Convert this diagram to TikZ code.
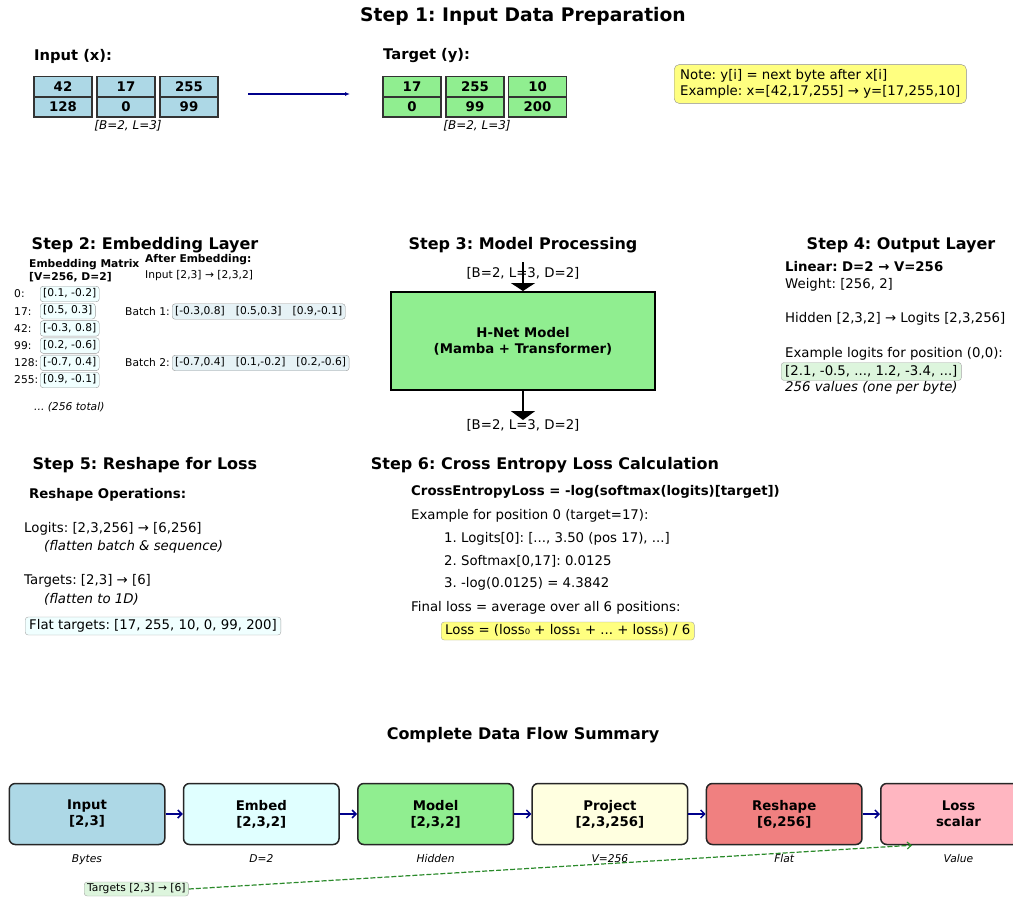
\documentclass[tikz,border=0pt]{standalone}
\usepackage{fontspec}
\setmainfont{DejaVu Sans}
\usetikzlibrary{arrows.meta,positioning,calc}
\frenchspacing
\definecolor{cellblue}{HTML}{ADD8E6}
\definecolor{cellgreen}{HTML}{90EE90}
\definecolor{notefill}{HTML}{FFFF80}
\definecolor{embfill}{HTML}{F0FFFF}
\definecolor{batchfill}{HTML}{E6F2F6}
\definecolor{logitfill}{HTML}{DDF5DD}
\definecolor{flowcyan}{HTML}{E0FFFF}
\definecolor{flowyellow}{HTML}{FFFFE0}
\definecolor{flowcoral}{HTML}{F08080}
\definecolor{flowpink}{HTML}{FFB6C1}
\definecolor{flowarrow}{HTML}{00008B}
\definecolor{dashgreen}{HTML}{2A8A2A}
\tikzset{
  bigtitle/.style={inner sep=0pt,font=\bfseries\fontsize{18.7}{22}\selectfont},
  steptitle/.style={inner sep=0pt,font=\bfseries\fontsize{16}{19}\selectfont},
  txt/.style={anchor=west,inner sep=0pt,font=\fontsize{13.3}{16}\selectfont},
  txtb/.style={txt,font=\bfseries\fontsize{13.3}{16}\selectfont},
  txti/.style={txt,font=\itshape\fontsize{13.3}{16}\selectfont},
  small/.style={anchor=west,inner sep=0pt,font=\fontsize{10.7}{12.5}\selectfont},
  smallb/.style={small,font=\bfseries\fontsize{10.7}{12.5}\selectfont},
  smalli/.style={small,font=\itshape\fontsize{10.7}{12.5}\selectfont},
  cell/.style={draw=black!80,line width=1.5pt,minimum width=58pt,minimum height=20pt,
    inner sep=0pt,font=\bfseries\fontsize{13.3}{16}\selectfont},
  incell/.style={cell,fill=cellblue},
  tagbox/.style={anchor=west,draw=gray!80,rounded corners=3pt,inner xsep=3pt,inner ysep=2.5pt,
    text height=8pt,text depth=2.5pt},
  flowbox/.style={draw=black!85,line width=1.5pt,rounded corners=6pt,minimum width=155.5pt,
    minimum height=61pt,align=center,font=\bfseries\fontsize{13.3}{16}\selectfont},
  flownote/.style={inner sep=0pt,font=\itshape\fontsize{10.7}{12.5}\selectfont},
}
\begin{document}
\begin{tikzpicture}[x=1pt,y=-1pt]
\clip (0,0) rectangle (1013,898);
\fill[white] (0,0) rectangle (1013,898);
% step 1
\node[bigtitle] (t1) at (523,16) {Step 1: Input Data Preparation};
\node[txtb,font=\bfseries\fontsize{14.7}{17}\selectfont] (inlab) at (34,56) {Input (x):};
\node[incell] (x11) at (63,86.5) {42};
\node[incell] (x12) at (126,86.5) {17};
\node[incell] (x13) at (189,86.5) {255};
\node[incell] (x21) at (63,107) {128};
\node[incell] (x22) at (126,107) {0};
\node[incell] (x23) at (189,107) {99};
\node[smalli,anchor=center,font=\itshape\fontsize{12}{14}\selectfont] (xshape) at (128,126) {[B=2, L=3]};
\node[txtb,font=\bfseries\fontsize{14.7}{17}\selectfont] (tglab) at (383,56) {Target (y):};
\node[cell,fill=cellgreen] (y11) at (412,86.5) {17};
\node[cell,fill=cellgreen] (y12) at (475,86.5) {255};
\node[cell,fill=cellgreen] (y13) at (537.5,86.5) {10};
\node[cell,fill=cellgreen] (y21) at (412,107) {0};
\node[cell,fill=cellgreen] (y22) at (475,107) {99};
\node[cell,fill=cellgreen] (y23) at (537.5,107) {200};
\node[smalli,anchor=center,font=\itshape\fontsize{12}{14}\selectfont] (yshape) at (477,126) {[B=2, L=3]};
\coordinate (s1from) at (248,94);
\coordinate (s1to) at (350,94);
\draw[flowarrow,line width=1.5pt,-{Latex[length=5pt,width=4pt]}] (s1from) -- (s1to);
\node[txt,draw=black!45,fill=notefill,rounded corners=5pt,align=left,inner xsep=6pt,inner ysep=5pt] (note) at (674,84)
  {Note: y[i] = next byte after x[i]\\Example: x=[42,17,255] → y=[17,255,10]};
% step 2
\node[steptitle] (t2) at (145,245) {Step 2: Embedding Layer};
\node[smallb,align=left] (embhead) at (29,270.5) {Embedding Matrix\\{}[V=256, D=2]};
\node[smallb] (afterhead) at (145,259.5) {After Embedding:};
\node[small] (aftersub) at (145,276) {Input [2,3] → [2,3,2]};
\node[small] (r0) at (14,294) {0:};
\node[small] (r17) at (14,311.2) {17:};
\node[small] (r42) at (14,328.4) {42:};
\node[small] (r99) at (14,345.6) {99:};
\node[small] (r128) at (14,362.8) {128:};
\node[small] (r255) at (14,380) {255:};
\node[small,tagbox,fill=embfill] (e0) at (40,294) {[0.1, -0.2]};
\node[small,tagbox,fill=embfill] (e17) at (40,311.2) {[0.5, 0.3]};
\node[small,tagbox,fill=embfill] (e42) at (40,328.4) {[-0.3, 0.8]};
\node[small,tagbox,fill=embfill] (e99) at (40,345.6) {[0.2, -0.6]};
\node[small,tagbox,fill=embfill] (e128) at (40,362.8) {[-0.7, 0.4]};
\node[small,tagbox,fill=embfill] (e255) at (40,380) {[0.9, -0.1]};
\node[smalli] (etotal) at (34,407) {... (256 total)};
\node[small] (b1lab) at (125,311.5) {Batch 1:};
\node[small,tagbox,fill=batchfill] (b1) at (172,311.5) {[-0.3,0.8]\hspace{11pt}[0.5,0.3]\hspace{11pt}[0.9,-0.1]};
\node[small] (b2lab) at (125,363) {Batch 2:};
\node[small,tagbox,fill=batchfill] (b2) at (172,363) {[-0.7,0.4]\hspace{11pt}[0.1,-0.2]\hspace{11pt}[0.2,-0.6]};
% step 3
\node[steptitle] (t3) at (523,245) {Step 3: Model Processing};
\node[txt,anchor=center] (hin) at (523,273) {[B=2, L=3, D=2]};
\node[draw=black,line width=2pt,fill=cellgreen,minimum width=264pt,minimum height=98pt,align=center,
  font=\bfseries\fontsize{13.3}{16}\selectfont] (model) at (523,341) {H-Net Model\\(Mamba + Transformer)};
\node[txt,anchor=center] (hout) at (523,425) {[B=2, L=3, D=2]};
\coordinate (m3top) at (523,262);
\coordinate (m3bot) at (523,420);
\draw[line width=2pt,-{Triangle[width=24pt,length=8pt]}] (m3top) -- (model.north);
\draw[line width=2pt,-{Triangle[width=24pt,length=9pt]}] (model.south) -- (m3bot);
% step 4
\node[steptitle] (t4) at (901,245) {Step 4: Output Layer};
\node[txtb] (lin) at (785,267) {Linear: D=2 → V=256};
\node[txt] (wt) at (785,285) {Weight: [256, 2]};
\node[txt] (hid) at (785,319) {Hidden [2,3,2] → Logits [2,3,256]};
\node[txt] (exl) at (785,354) {Example logits for position (0,0):};
\node[txt,tagbox,fill=logitfill,draw=gray!70,inner xsep=4pt,text height=10pt,text depth=3pt] (logits) at (781,371.5) {[2.1, -0.5, ..., 1.2, -3.4, ...]};
\node[txti] (nvals) at (785,388) {256 values (one per byte)};
% step 5
\node[steptitle] (t5) at (145,465) {Step 5: Reshape for Loss};
\node[txtb] (rops) at (29,495) {Reshape Operations:};
\node[txt] (rlog) at (24,529) {Logits: [2,3,256] → [6,256]};
\node[txti] (rlogi) at (44,547) {(flatten batch \& sequence)};
\node[txt] (rtg) at (24,581) {Targets: [2,3] → [6]};
\node[txti] (rtgi) at (44,599) {(flatten to 1D)};
\node[txt,tagbox,fill=embfill,draw=gray!70,inner xsep=4pt,text height=10pt,text depth=3pt] (flat) at (25,626) {Flat targets: [17, 255, 10, 0, 99, 200]};
% step 6
\node[steptitle] (t6) at (545,465) {Step 6: Cross Entropy Loss Calculation};
\node[txtb] (ce) at (411,492) {CrossEntropyLoss = -log(softmax(logits)[target])};
\node[txt] (ex0) at (411,516) {Example for position 0 (target=17):};
\node[txt] (ex1) at (444,539) {1. Logits[0]: [..., 3.50 (pos 17), ...]};
\node[txt] (ex2) at (444,561) {2. Softmax[0,17]: 0.0125};
\node[txt] (ex3) at (444,584) {3. -log(0.0125) = 4.3842};
\node[txt] (fin) at (411,608) {Final loss = average over all 6 positions:};
\node[txt,tagbox,fill=notefill,draw=gray!70,inner xsep=4pt,text height=10pt,text depth=3pt] (lossf) at (441,631) {Loss = (loss₀ + loss₁ + ... + loss₅) / 6};
% summary
\node[steptitle] (ts) at (523,735) {Complete Data Flow Summary};
\node[flowbox,fill=cellblue] (fInput) at (87,814) {Input\\{}[2,3]};
\node[flowbox,fill=flowcyan,right=17.3pt of fInput] (fEmbed) {Embed\\{}[2,3,2]};
\node[flowbox,fill=cellgreen,right=17.3pt of fEmbed] (fModel) {Model\\{}[2,3,2]};
\node[flowbox,fill=flowyellow,right=17.3pt of fModel] (fProject) {Project\\{}[2,3,256]};
\node[flowbox,fill=flowcoral,right=17.3pt of fProject] (fReshape) {Reshape\\{}[6,256]};
\node[flowbox,fill=flowpink,right=17.3pt of fReshape] (fLoss) {Loss\\scalar};
\node[flownote,below=9pt of fInput] (nInput) {Bytes};
\node[flownote,below=9pt of fEmbed] (nEmbed) {D=2};
\node[flownote,below=9pt of fModel] (nModel) {Hidden};
\node[flownote,below=9pt of fProject] (nProject) {V=256};
\node[flownote,below=9pt of fReshape] (nReshape) {Flat};
\node[flownote,below=9pt of fLoss] (nLoss) {Value};
\path[->,>={Straight Barb[length=4pt,width=8pt]},flowarrow,line width=1.5pt]
(fInput) edge (fEmbed)
(fEmbed) edge (fModel)
(fModel) edge (fProject)
(fProject) edge (fReshape)
(fReshape) edge (fLoss);
\node[small,tagbox,fill=logitfill,draw=gray!70,text height=7.5pt,text depth=2.5pt,inner ysep=2pt] (tgt) at (84,889) {Targets [2,3] → [6]};
\draw[dashgreen,line width=1.2pt,dash pattern=on 5pt off 2pt,-{Straight Barb[length=4pt,width=7pt]}]
  (tgt.east) -- ($(fLoss.south west)+(32,0)$);
\end{tikzpicture}
\end{document}
